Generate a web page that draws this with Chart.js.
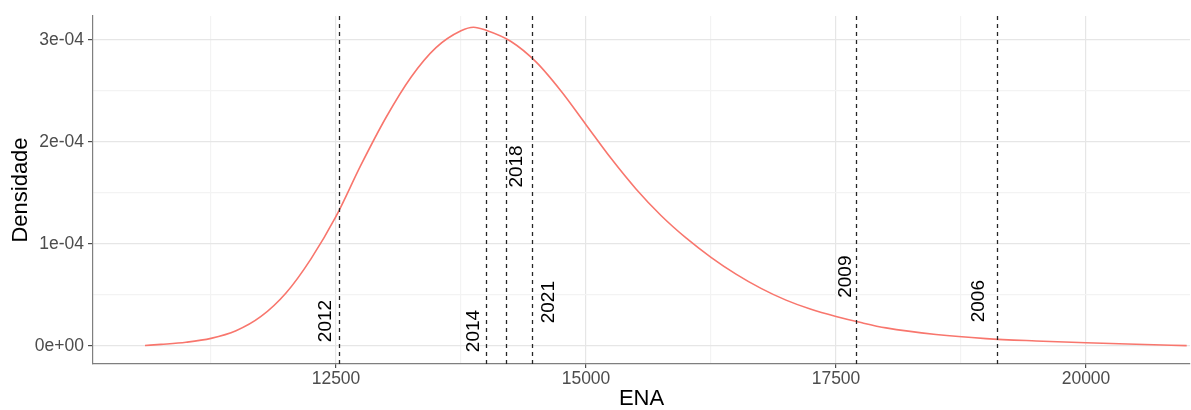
<!DOCTYPE html>
<html>
<head>
<meta charset="utf-8">
<script src="https://cdn.jsdelivr.net/npm/chart.js@4"></script>
<style>
  html, body { margin: 0; padding: 0; background: #fff; }
</style>
</head>
<body>
<canvas id="densityChart" width="1191" height="410"></canvas>
<script>
// density curve
const enaX = [10590, 10750, 11000, 11250, 11500, 11750, 12000, 12250, 12500, 12750, 13000, 13250, 13500, 13750, 13875, 14000, 14250, 14500, 14750, 15000, 15250, 15500, 15750, 16000, 16250, 16500, 16750, 17000, 17250, 17500, 17750, 18000, 18500, 19000, 19500, 20000, 20500, 21007];
const density = [0.005e-4, 0.016e-4, 0.037e-4, 0.075e-4, 0.15e-4, 0.29e-4, 0.52e-4, 0.855e-4, 1.27e-4, 1.775e-4, 2.24e-4, 2.635e-4, 2.925e-4, 3.09e-4, 3.125e-4, 3.095e-4, 2.985e-4, 2.785e-4, 2.50e-4, 2.17e-4, 1.84e-4, 1.54e-4, 1.28e-4, 1.06e-4, 0.87e-4, 0.705e-4, 0.565e-4, 0.45e-4, 0.36e-4, 0.29e-4, 0.23e-4, 0.178e-4, 0.113e-4, 0.073e-4, 0.05e-4, 0.032e-4, 0.017e-4, 0.004e-4];

// years marked with dashed lines
const years = ['2012', '2014', '2018', '2021', '2009', '2006'];
const yearEna = [12530, 13997, 14197, 14457, 17700, 19107];
const labelEna = [12390, 13870, 14300, 14620, 17590, 18920];
const labelDens = [0.245e-4, 0.147e-4, 1.76e-4, 0.43e-4, 0.68e-4, 0.44e-4];

// ticks
const xMajor = [12500, 15000, 17500, 20000];
const xMinor = [11250, 13750, 16250, 18750];
const yMajor = [0, 1e-4, 2e-4, 3e-4];
const yMajorLabels = ['0e+00', '1e-04', '2e-04', '3e-04'];
const yMinor = [0.5e-4, 1.5e-4, 2.5e-4];

const FONT = "'Liberation Sans', Arial, sans-serif";
const MAJOR_GRID = '#e6e6e6';
const MINOR_GRID = '#f3f3f3';

const isMajor = (list, v) => list.some(m => Math.abs(m - v) < 1e-9);

const yearLines = {
    id: 'yearLines',
    afterDatasetsDraw(chart) {
        const { ctx, chartArea, scales } = chart;
        ctx.save();
        ctx.beginPath();
        ctx.rect(chartArea.left, chartArea.top, chartArea.right - chartArea.left, chartArea.bottom - chartArea.top);
        ctx.clip();

        ctx.strokeStyle = '#262626';
        ctx.lineWidth = 1.3;
        ctx.setLineDash([4, 4]);
        yearEna.forEach(v => {
            const x = Math.round(scales.x.getPixelForValue(v)) + 0.5;
            ctx.beginPath();
            ctx.moveTo(x, chartArea.top);
            ctx.lineTo(x, chartArea.bottom);
            ctx.stroke();
        });
        ctx.setLineDash([]);

        ctx.fillStyle = '#000';
        ctx.font = '19px ' + FONT;
        ctx.textAlign = 'center';
        ctx.textBaseline = 'middle';
        years.forEach((label, i) => {
            const x = scales.x.getPixelForValue(labelEna[i]);
            const y = scales.y.getPixelForValue(labelDens[i]);
            ctx.save();
            ctx.translate(x, y);
            ctx.rotate(-Math.PI / 2);
            ctx.fillText(label, 0, 1);
            ctx.restore();
        });
        ctx.restore();
    }
};

new Chart(document.getElementById('densityChart'), {
    type: 'line',
    data: {
        datasets: [{
            data: enaX.map((x, i) => ({ x: x, y: density[i] })),
            borderColor: '#F8766D',
            borderWidth: 1.6,
            pointRadius: 0,
            fill: false,
            cubicInterpolationMode: 'monotone'
        }]
    },
    options: {
        responsive: false,
        animation: false,
        layout: { padding: { top: 16, right: 1, left: 0, bottom: 0 } },
        plugins: {
            legend: { display: false },
            tooltip: { enabled: false }
        },
        scales: {
            x: {
                type: 'linear',
                min: 10070,
                max: 21040,
                afterBuildTicks: scale => {
                    scale.ticks = [...xMinor, ...xMajor].sort((a, b) => a - b).map(v => ({ value: v }));
                },
                afterFit: scale => { scale.height = 46; },
                ticks: {
                    autoSkip: false,
                    maxRotation: 0,
                    padding: 1,
                    color: '#4d4d4d',
                    font: { family: FONT, size: 17.5 },
                    callback: v => isMajor(xMajor, v) ? String(v) : ''
                },
                grid: {
                    color: c => isMajor(xMajor, c.tick.value) ? MAJOR_GRID : MINOR_GRID,
                    tickColor: c => isMajor(xMajor, c.tick.value) ? '#4d4d4d' : 'rgba(0,0,0,0)',
                    lineWidth: 1.2,
                    tickLength: 4
                },
                border: { display: true, color: '#7f7f7f', width: 1.2 },
                title: {
                    display: true,
                    text: 'ENA',
                    color: '#000',
                    font: { family: FONT, size: 22, lineHeight: 1 },
                    padding: { top: 0, bottom: 0 }
                }
            },
            y: {
                type: 'linear',
                min: -0.176e-4,
                max: 3.235e-4,
                afterBuildTicks: scale => {
                    scale.ticks = [...yMajor, ...yMinor].sort((a, b) => a - b).map(v => ({ value: v }));
                },
                afterFit: scale => { scale.width = 93; },
                ticks: {
                    autoSkip: false,
                    padding: 4,
                    color: '#4d4d4d',
                    font: { family: FONT, size: 17.5 },
                    callback: v => {
                        const i = yMajor.findIndex(m => Math.abs(m - v) < 1e-9);
                        return i >= 0 ? yMajorLabels[i] : '';
                    }
                },
                grid: {
                    color: c => isMajor(yMajor, c.tick.value) ? MAJOR_GRID : MINOR_GRID,
                    tickColor: c => isMajor(yMajor, c.tick.value) ? '#4d4d4d' : 'rgba(0,0,0,0)',
                    lineWidth: 1.2,
                    tickLength: 5
                },
                border: { display: true, color: '#7f7f7f', width: 1.2 },
                title: {
                    display: true,
                    text: 'Densidade',
                    color: '#000',
                    font: { family: FONT, size: 22, lineHeight: 1 },
                    padding: { top: 10, bottom: 0 }
                }
            }
        }
    },
    plugins: [yearLines]
});
</script>
</body>
</html>
